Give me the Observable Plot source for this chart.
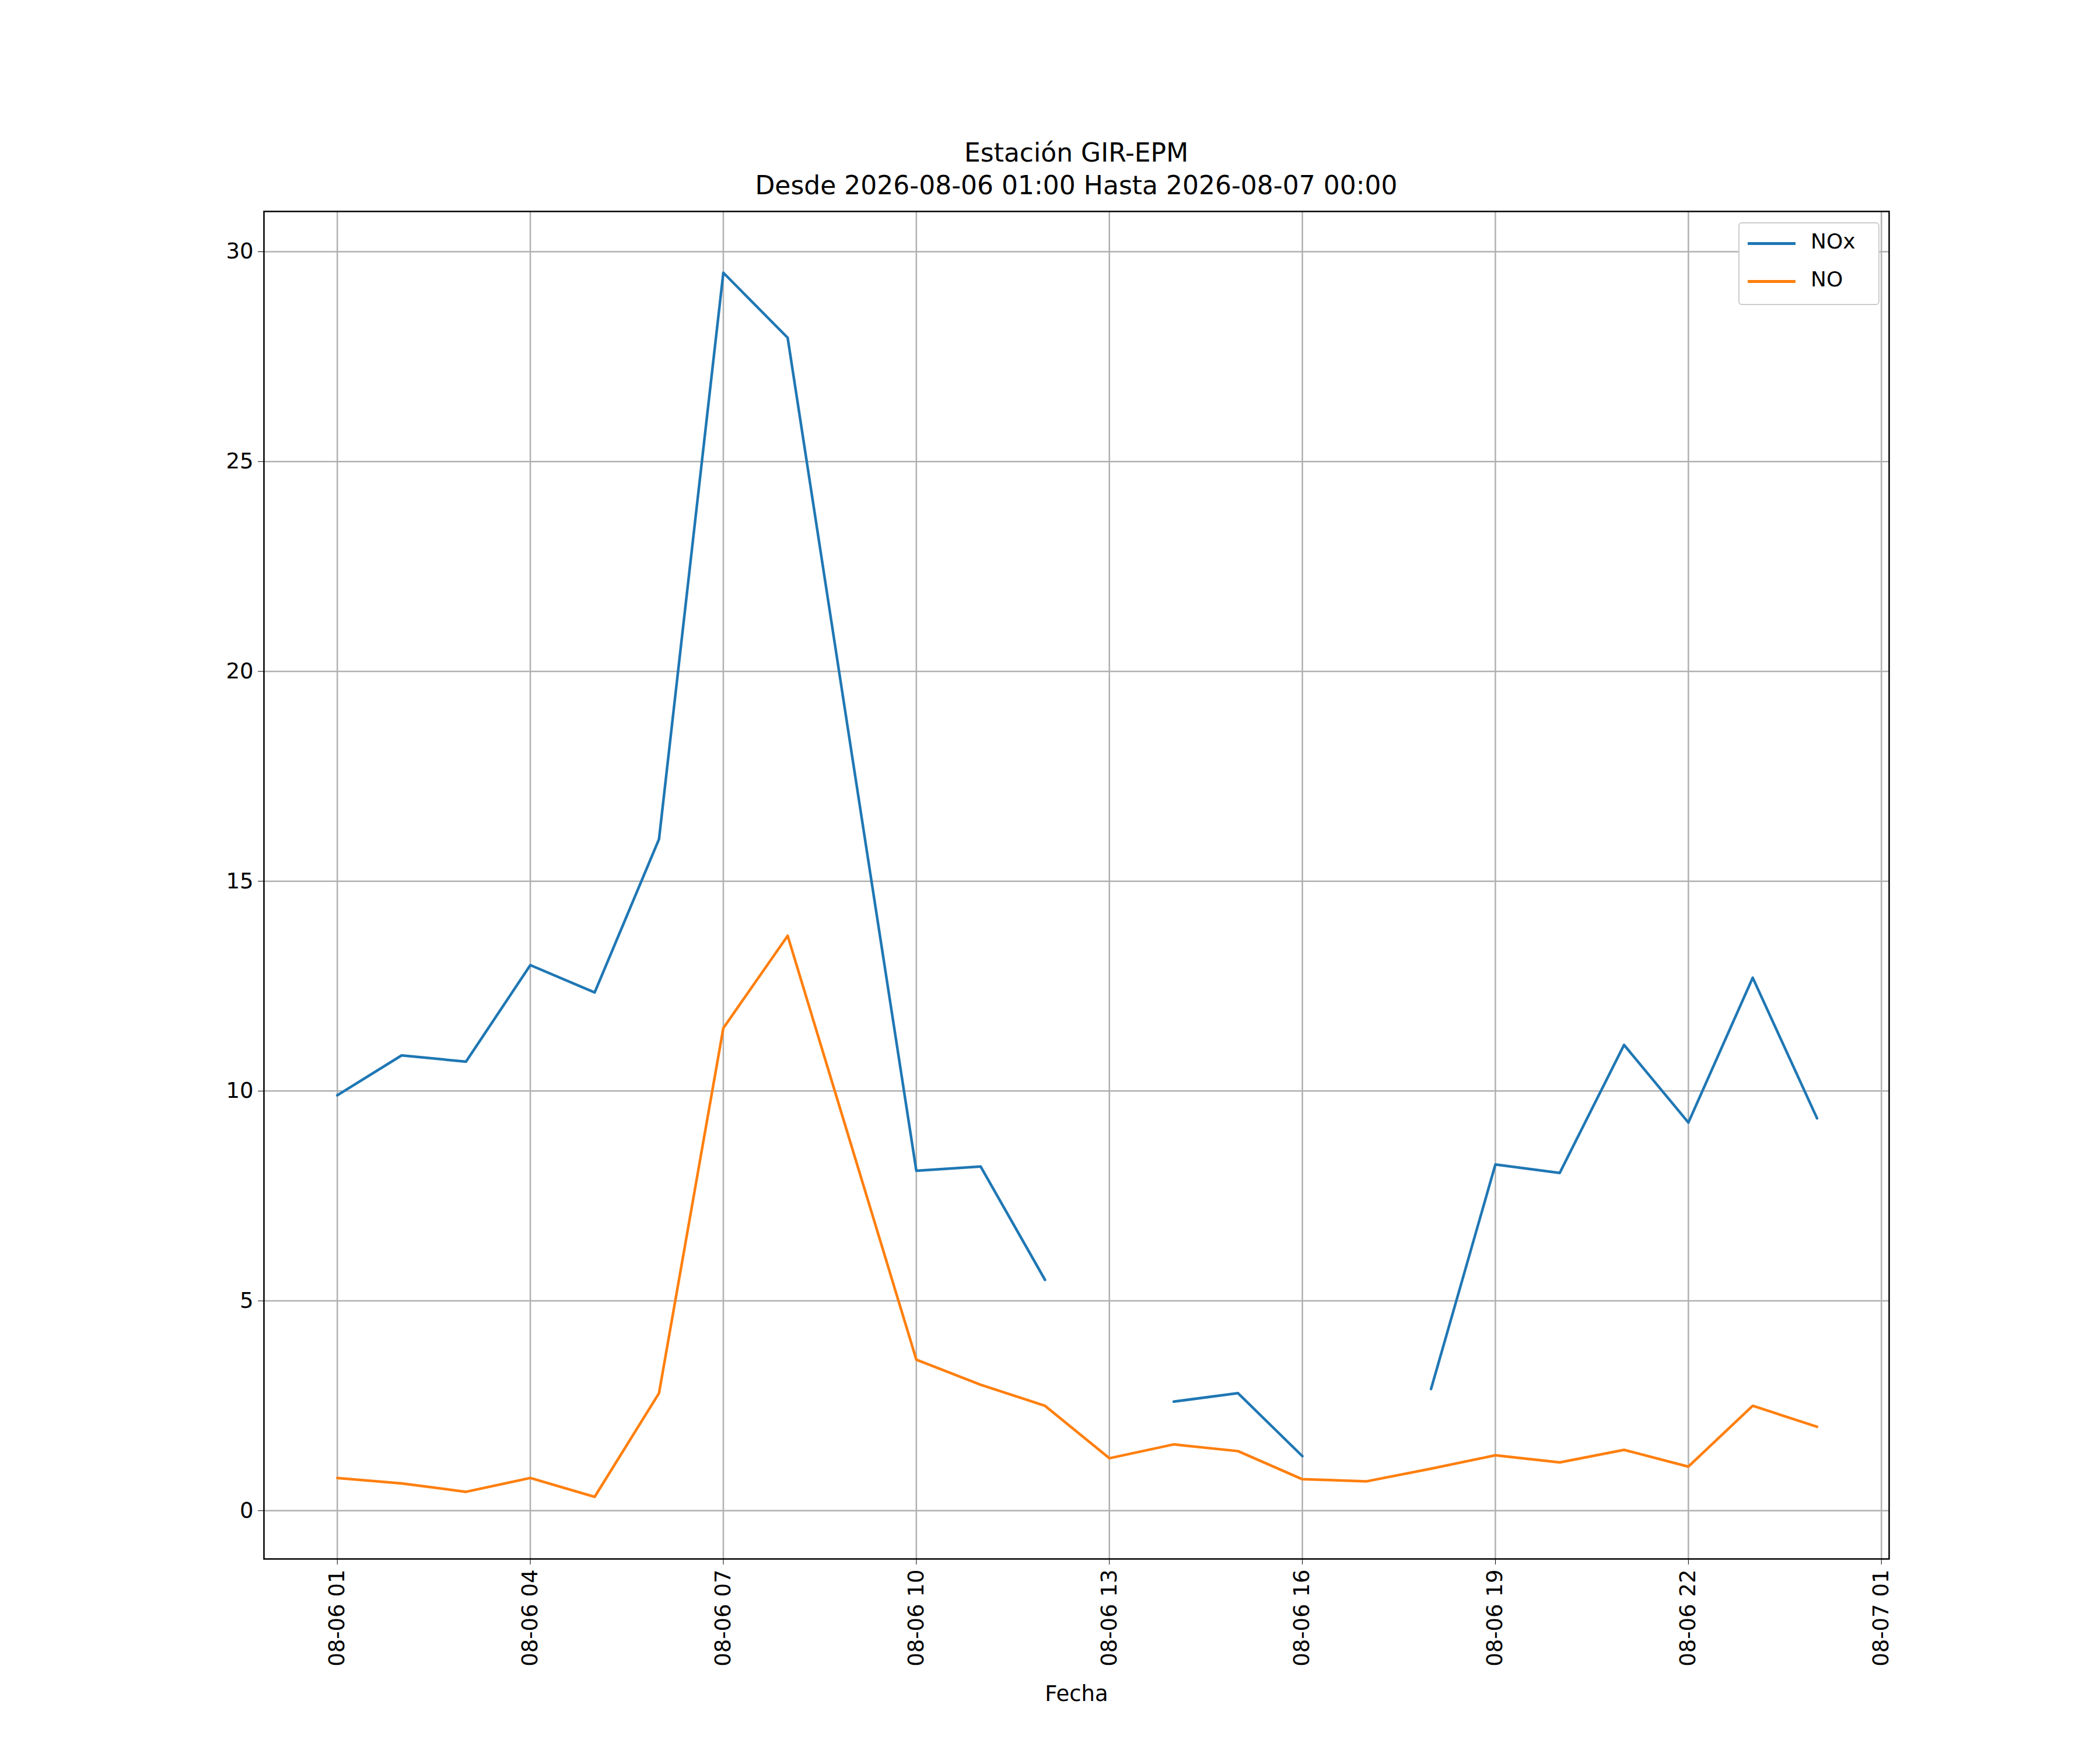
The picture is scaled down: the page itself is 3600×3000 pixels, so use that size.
<!DOCTYPE html>
<html><head><meta charset="utf-8">
<script src="https://cdn.jsdelivr.net/npm/d3@7"></script>
<script src="https://cdn.jsdelivr.net/npm/@observablehq/plot@0.6"></script>
<style>
body{margin:0;background:#fff;font-family:"DejaVu Sans",sans-serif}
#wrap{position:relative;width:3600px;height:3000px}
.t{position:absolute;left:452px;width:2786px;text-align:center;font-size:44px;color:#000}
#leg{position:absolute;left:2980px;top:381px;width:238px;height:138px;border:2px solid #ccc;border-radius:6px;background:#fff;font-size:36px}
.li{position:absolute;left:14px;height:5px;width:82px}
.ll{position:absolute;left:122px}
</style></head><body>
<div id="wrap">
<div class="t" style="top:236px">Estación GIR-EPM</div>
<div class="t" style="top:292px">Desde 2026-08-06 01:00 Hasta 2026-08-07 00:00</div>
<div id="chart"></div>
<div id="leg">
<div class="li" style="top:32px;background:#1f77b4"></div><div class="ll" style="top:10px">NOx</div>
<div class="li" style="top:97px;background:#ff7f0e"></div><div class="ll" style="top:75px">NO</div>
</div>
</div>
<script>
const hours = d3.range(1,25);
const nox = [9.9,10.85,10.7,13.0,12.35,16.0,29.5,27.95,18.0,8.1,8.2,5.5,null,2.6,2.8,1.3,null,2.9,8.25,8.05,11.1,9.25,12.7,9.35];
const no = [0.78,0.65,0.45,0.78,0.33,2.8,11.5,13.7,8.65,3.6,3.0,2.5,1.25,1.58,1.42,0.75,0.7,1.0,1.32,1.15,1.45,1.05,2.5,2.0];
const t = h => new Date(Date.UTC(2026,7,6,h));
const noxData = hours.map((h,i)=>({x:t(h),y:nox[i]==null?NaN:nox[i]}));
const noData = hours.map((h,i)=>({x:t(h),y:no[i]}));
const xticks = d3.range(1,26,3).map(t);
const fmt = d3.utcFormat("%m-%d %H");
const chart = Plot.plot({
  width:3600,height:3000,
  marginLeft:452,marginRight:362,marginTop:362,marginBottom:328,
  style:{fontFamily:"DejaVu Sans",fontSize:"37px",background:"transparent",color:"#000"},
  x:{type:"utc",domain:[new Date(t(1)-1.14*3600e3),new Date(+t(1)+24.12*3600e3)],ticks:xticks,tickFormat:fmt,tickRotate:-90,label:null,tickSize:10},
  y:{domain:[-1.15,30.96],ticks:[0,5,10,15,20,25,30],label:null,tickSize:10},
  marks:[
    Plot.gridX(xticks,{stroke:"#b0b0b0",strokeOpacity:1,strokeWidth:2.5}),
    Plot.gridY([0,5,10,15,20,25,30],{stroke:"#b0b0b0",strokeOpacity:1,strokeWidth:2.5}),
    Plot.line(noxData,{x:"x",y:"y",stroke:"#1f77b4",strokeWidth:4.5}),
    Plot.line(noData,{x:"x",y:"y",stroke:"#ff7f0e",strokeWidth:4.5}),
    Plot.frame({stroke:"#000",strokeWidth:2.5}),
    Plot.axisX({ticks:xticks,tickFormat:fmt,tickRotate:-90,tickSize:10,tickPadding:8,label:null,fontSize:37}),
    Plot.axisY({ticks:[0,5,10,15,20,25,30],tickSize:10,tickPadding:8,label:null,fontSize:37}),
    Plot.text(["Fecha"],{frameAnchor:"bottom",dy:243,fontSize:37})
  ]
});
document.getElementById("chart").appendChild(chart);
</script>
</body></html>
